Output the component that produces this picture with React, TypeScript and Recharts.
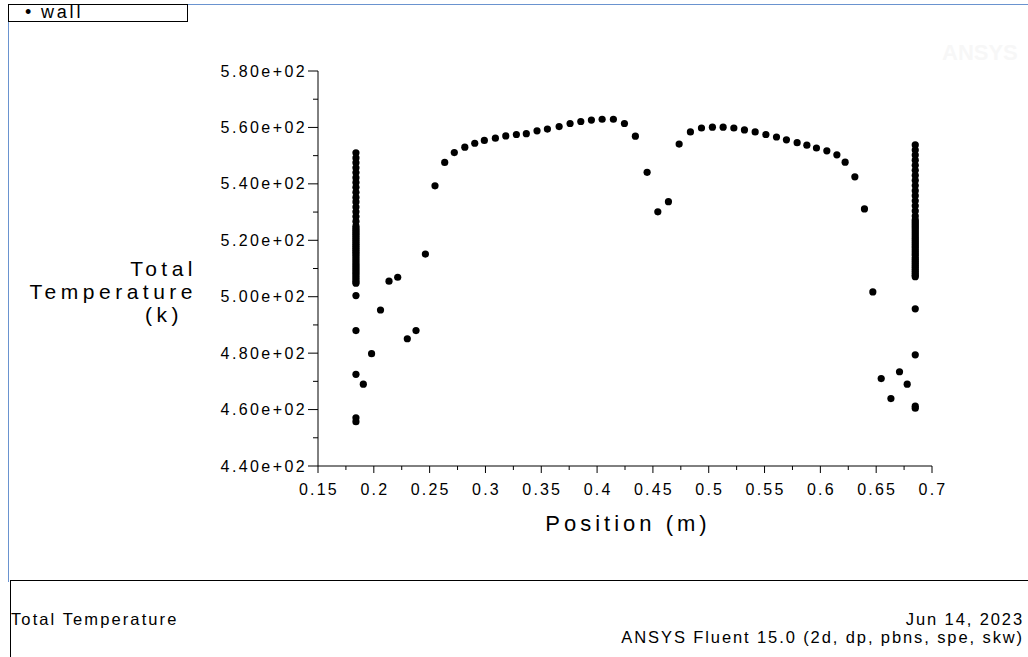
import { ScatterChart, Scatter, XAxis, YAxis } from "recharts";

// wall sampling points along the x = 0.184 m edge
const leftWallX = 0.184;
const leftWallTemps = [
  551.0, 549.2, 547.5, 545.7, 544.0, 542.2, 540.5, 538.8, 537.0, 535.2, 533.6,
  531.8, 530.1, 528.4, 526.7, 525.0, 524.2, 523.5, 522.8, 522.1, 521.4, 520.7,
  520.0, 519.3, 518.6, 517.9, 517.2, 516.5, 515.8, 515.1, 514.4, 513.7, 513.0,
  512.3, 511.6, 510.9, 510.2, 509.5, 508.8, 508.1, 507.4, 506.7, 506.0, 505.3,
  504.8, 500.4, 488.0, 472.5, 457.1, 455.7,
];

// wall sampling points along the x = 0.685 m edge
const rightWallX = 0.685;
const rightWallTemps = [
  553.8, 552.0, 550.2, 548.4, 546.6, 544.8, 543.0, 541.2, 539.4, 537.6, 535.8,
  534.0, 532.2, 530.4, 528.6, 527.2, 526.5, 525.8, 525.1, 524.4, 523.7, 523.0,
  522.3, 521.6, 520.9, 520.2, 519.5, 518.8, 518.1, 517.4, 516.7, 516.0, 515.3,
  514.6, 513.9, 513.2, 512.5, 511.8, 511.1, 510.4, 509.7, 509.0, 508.3, 507.6,
  507.1, 495.7, 479.4, 461.2, 460.5,
];

// profile along the wall between the two edges
const profilePositions = [
  0.1906, 0.198, 0.206, 0.2136, 0.2214, 0.23, 0.2378, 0.2462, 0.2548, 0.2635,
  0.2721, 0.2815, 0.2904, 0.299, 0.3089, 0.3182, 0.3277, 0.3366, 0.3462,
  0.3555, 0.366, 0.3758, 0.3854, 0.3949, 0.4045, 0.4146, 0.4245, 0.4343,
  0.4448, 0.4544, 0.4639, 0.4735, 0.4836, 0.4935, 0.5033, 0.5129, 0.5225,
  0.532, 0.5416, 0.5512, 0.5607, 0.5696, 0.5792, 0.5879, 0.5965, 0.6058,
  0.6148, 0.6222, 0.6309, 0.6395, 0.647, 0.6545, 0.6632, 0.6709, 0.6778,
];
const profileTemps = [
  469.0, 479.8, 495.3, 505.5, 506.9, 485.1, 488.0, 515.1, 539.3, 547.6, 551.1,
  553.0, 554.4, 555.4, 556.2, 557.0, 557.5, 557.8, 558.8, 559.4, 560.3, 561.4,
  562.1, 562.6, 562.9, 562.9, 561.4, 556.9, 544.1, 530.1, 533.7, 554.1, 558.4,
  559.8, 560.1, 560.1, 559.8, 559.1, 558.4, 557.5, 556.6, 555.6, 554.6, 553.7,
  552.7, 551.7, 550.3, 547.7, 542.5, 531.1, 501.7, 471.0, 463.9, 473.4, 469.0,
];

const yTicks = [440, 450, 460, 470, 480, 490, 500, 510, 520, 530, 540, 550, 560, 570, 580];
const xTicks = [
  0.15, 0.175, 0.2, 0.225, 0.25, 0.275, 0.3, 0.325, 0.35, 0.375, 0.4, 0.425,
  0.45, 0.475, 0.5, 0.525, 0.55, 0.575, 0.6, 0.625, 0.65, 0.675, 0.7,
];

const wallData = [
  ...leftWallTemps.map((t) => ({ x: leftWallX, t })),
  ...profilePositions.map((x, i) => ({ x, t: profileTemps[i] })),
  ...rightWallTemps.map((t) => ({ x: rightWallX, t })),
];

const font = "'Liberation Sans', Arial, sans-serif";

function YTick(props: any) {
  const { x, y, payload } = props;
  const major = payload.value % 20 === 0;
  return (
    <g>
      <line x1={x} x2={x - (major ? 10 : 5)} y1={y} y2={y} stroke="#000" />
      {major && (
        <text
          x={x - 11}
          y={y}
          dy={5.5}
          textAnchor="end"
          fontSize={16}
          letterSpacing={2.4}
          fontFamily={font}
          fill="#000"
        >
          {(payload.value / 100).toFixed(2) + "e+02"}
        </text>
      )}
    </g>
  );
}

function XTick(props: any) {
  const { x, y, payload } = props;
  const major = Math.round(payload.value * 1000) % 50 === 0;
  return (
    <g>
      <line x1={x} x2={x} y1={y} y2={y + (major ? 7 : 4)} stroke="#000" />
      {major && (
        <text
          x={x + 1}
          y={y + 29}
          textAnchor="middle"
          fontSize={16}
          letterSpacing={2.2}
          fontFamily={font}
          fill="#000"
        >
          {String(payload.value)}
        </text>
      )}
    </g>
  );
}

export default function App() {
  return (
    <div
      style={{
        position: "absolute",
        left: 0,
        top: 0,
        width: 1028,
        height: 657,
        background: "#fff",
        fontFamily: font,
        color: "#000",
        overflow: "hidden",
      }}
    >
      {/* window frame */}
      <div style={{ position: "absolute", left: 8, top: 4, width: 1020, height: 1, background: "#6a93cf" }} />
      <div style={{ position: "absolute", left: 8, top: 4, width: 1, height: 578, background: "#6a93cf" }} />

      {/* legend */}
      <div
        style={{
          position: "absolute",
          left: 8,
          top: 4,
          width: 180,
          height: 18,
          border: "1px solid #000",
          boxSizing: "border-box",
          fontSize: 18,
          lineHeight: "15px",
          background: "#fff",
        }}
      >
        <span style={{ position: "absolute", left: 16, top: 0 }}>•</span>
        <span style={{ position: "absolute", left: 32, top: 0, letterSpacing: 2.8 }}>wall</span>
      </div>

      {/* watermark */}
      <div
        style={{
          position: "absolute",
          left: 942,
          top: 40,
          fontSize: 22,
          fontWeight: "bold",
          color: "#f7f7f7",
        }}
      >
        ANSYS
      </div>

      <ScatterChart
        width={1028}
        height={657}
        margin={{ top: 71, right: 96, bottom: 151, left: 208 }}
        style={{ position: "absolute", left: 0, top: 0 }}
      >
        <XAxis
          type="number"
          dataKey="x"
          domain={[0.15, 0.7]}
          ticks={xTicks}
          interval={0}
          allowDataOverflow
          height={40}
          tickLine={false}
          tickSize={0}
          tickMargin={0}
          axisLine={{ stroke: "#000" }}
          tick={<XTick />}
        />
        <YAxis
          type="number"
          dataKey="t"
          domain={[440, 580]}
          ticks={yTicks}
          interval={0}
          allowDataOverflow
          width={110}
          tickLine={false}
          tickSize={0}
          tickMargin={0}
          axisLine={{ stroke: "#000" }}
          tick={<YTick />}
        />
        <Scatter
          name="wall"
          data={wallData}
          isAnimationActive={false}
          shape={(p: any) => <circle cx={p.cx} cy={p.cy} r={3.6} fill="#000" />}
        />
      </ScatterChart>

      {/* y axis title */}
      <div style={{ position: "absolute", right: 1028 - 197, top: 257, fontSize: 21, lineHeight: "23px", letterSpacing: 4.5, textAlign: "right" }}>
        <div>Total</div>
        <div>Temperature</div>
        <div style={{ paddingRight: 14 }}>(k)</div>
      </div>

      {/* x axis title */}
      <div style={{ position: "absolute", left: 0, width: 1256, top: 511, fontSize: 22, letterSpacing: 4, textAlign: "center" }}>
        Position (m)
      </div>

      {/* footer */}
      <div
        style={{
          position: "absolute",
          left: 10,
          top: 580,
          width: 1018,
          height: 77,
          borderTop: "1px solid #000",
          borderLeft: "1px solid #000",
          boxSizing: "border-box",
          fontSize: 16.5,
        }}
      >
        <div style={{ position: "absolute", left: 0, top: 29, letterSpacing: 2.1 }}>Total Temperature</div>
        <div style={{ position: "absolute", right: 4, top: 29, textAlign: "right", lineHeight: "18px", letterSpacing: 1.9 }}>
          <div>Jun 14, 2023</div>
          <div>ANSYS Fluent 15.0 (2d, dp, pbns, spe, skw)</div>
        </div>
      </div>
    </div>
  );
}
